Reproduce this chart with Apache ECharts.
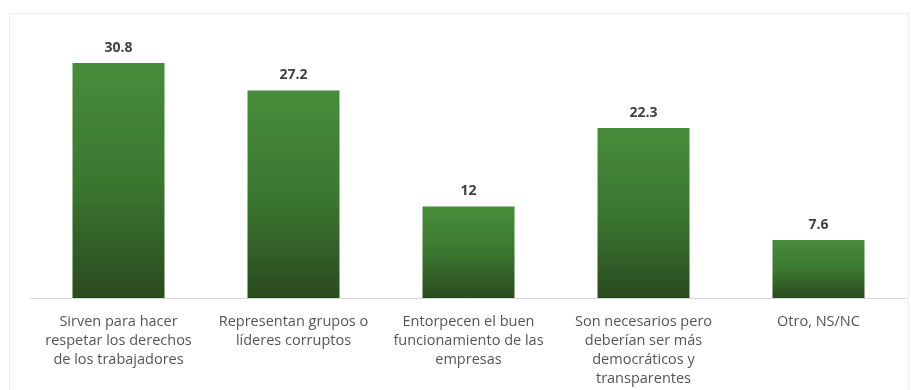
<!DOCTYPE html>
<html>
<head>
<meta charset="utf-8">
<script src="https://cdn.jsdelivr.net/npm/echarts@6/dist/echarts.min.js"></script>
<style>
  html, body { margin: 0; padding: 0; background: #fff; }
  #chart { width: 911px; height: 390px; }
</style>
</head>
<body>
<div id="chart"></div>
<script>
// Opinion sobre los sindicatos (%)
const categories = [
  'Sirven para hacer\nrespetar los derechos\nde los trabajadores',
  'Representan grupos o\nlíderes corruptos',
  'Entorpecen el buen\nfuncionamiento de las\nempresas',
  'Son necesarios pero\ndeberían ser más\ndemocráticos y\ntransparentes',
  'Otro, NS/NC'
];
const values = [30.8, 27.2, 12, 22.3, 7.6];

const chart = echarts.init(document.getElementById('chart'));

const barFill = new echarts.graphic.LinearGradient(0, 0, 0, 1, [
  { offset: 0, color: '#478c3b' },
  { offset: 0.5, color: '#3b7830' },
  { offset: 1, color: '#2a4a1f' }
]);

chart.setOption({
  animation: false,
  backgroundColor: '#ffffff',
  textStyle: { fontFamily: 'Open Sans' },
  graphic: [{
    type: 'rect',
    shape: { x: 9.5, y: 13.5, width: 899, height: 380 },
    style: { fill: 'none', stroke: '#ededed', lineWidth: 1 },
    silent: true
  }],
  grid: { left: 31, right: 5, top: 31, bottom: 92 },
  xAxis: {
    type: 'category',
    data: categories,
    axisLine: { show: true, lineStyle: { color: '#d9d9d9', width: 1 } },
    axisTick: { show: false },
    axisLabel: {
      interval: 0,
      margin: 14,
      color: '#555555',
      fontSize: 14.5,
      lineHeight: 19,
      fontFamily: 'Open Sans'
    }
  },
  yAxis: {
    type: 'value',
    min: 0,
    max: 35,
    show: false,
    splitLine: { show: false }
  },
  series: [{
    type: 'bar',
    data: values,
    barWidth: 92,
    itemStyle: { color: barFill },
    label: {
      show: true,
      position: 'top',
      distance: 8,
      color: '#404040',
      fontSize: 14,
      fontWeight: 'bold',
      fontFamily: 'Open Sans'
    }
  }]
});
</script>
</body>
</html>
